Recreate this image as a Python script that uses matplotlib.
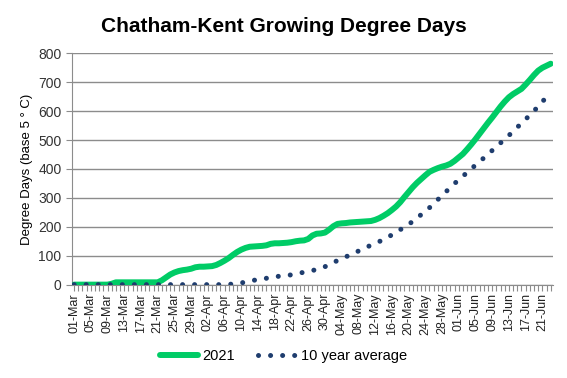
import matplotlib
matplotlib.use("Agg")
import matplotlib.pyplot as plt
import pandas as pd

plt.rcParams["font.family"] = ["Liberation Sans", "DejaVu Sans"]

dates = pd.date_range("2021-03-01", periods=115, freq="D")
date_labels = [d.strftime("%d-%b") for d in dates]

gdd_2021 = [
    0, 0, 0, 0, 0, 0, 0, 0, 0, 3,
    8, 8, 8, 8, 8, 8, 8, 8, 8, 8,
    8, 15, 25, 35, 42, 47, 50, 52, 55, 60,
    62, 62, 63, 64, 68, 75, 83, 92, 103, 113,
    121, 127, 131, 132, 133, 134, 136, 141, 143, 143,
    144, 145, 147, 150, 152, 153, 158, 170, 176, 177,
    180, 190, 202, 210, 212, 213, 215, 216, 217, 218,
    219, 220, 224, 230, 238, 247, 258, 270, 285, 303,
    320, 337, 352, 365, 378, 390, 397, 403, 408, 412,
    418, 428, 440, 452, 468, 485, 503, 522, 541, 560,
    578, 597, 616, 633, 648, 659, 668, 677, 692, 708,
    725, 740, 750, 757, 764,
]

gdd_10yr = [
    0, 0, 0, 0, 0, 0, 0, 0, 0, 0,
    0, 0, 0, 0, 0, 0, 0, 0, 0, 0,
    0, 0, 0, 0, 0, 0, 0, 0, 0, 0,
    0, 0, 0, 0, 0, 0, 1, 1, 2, 4,
    6, 9, 12, 15, 18, 20, 22, 25, 27, 29,
    31, 32, 34, 37, 40, 43, 46, 49, 52, 56,
    62, 70, 77, 83, 90, 96, 103, 110, 116, 123,
    130, 136, 142, 149, 156, 164, 172, 181, 190, 199,
    208, 219, 230, 242, 254, 266, 280, 294, 308, 322,
    336, 350, 362, 375, 388, 401, 413, 426, 438, 451,
    464, 477, 490, 503, 516, 530, 544, 558, 572, 586,
    601, 616, 633, 648, 663,
]

x = list(range(len(dates)))

fig = plt.figure(figsize=(5.67, 3.78), dpi=100)
ax = fig.add_axes([0.127, 0.247, 0.848, 0.612])

ax.plot(x, gdd_2021, color="#00cc66", linewidth=4.3, solid_capstyle="round",
        label="2021", zorder=3)
ax.plot(x, gdd_10yr, color="#1f3d6e", linewidth=3.6, linestyle=(0, (0.01, 2.4)),
        dash_capstyle="round", label="10 year average", zorder=4)

ax.set_xlim(-0.5, len(dates) - 0.5)
ax.set_ylim(0, 800)
ax.set_yticks(range(0, 801, 100))
ax.yaxis.grid(True, color="#8c8c8c", linewidth=1)
ax.set_axisbelow(True)

ax.set_xticks(x[::4])
ax.set_xticklabels(date_labels[::4], rotation=90, fontsize=9, color="#222222")
ax.set_xticks(x, minor=True)
ax.tick_params(axis="x", which="both", length=4, color="#8c8c8c", width=0.8, pad=2)
ax.tick_params(axis="y", length=4, color="#8c8c8c", labelsize=10, labelcolor="#333333")

for side in ["top", "right"]:
    ax.spines[side].set_visible(False)
for side in ["left", "bottom"]:
    ax.spines[side].set_color("#8c8c8c")

ax.set_ylabel("Degree Days (base 5 ° C)", fontsize=9.5, labelpad=4)

fig.suptitle("Chatham-Kent Growing Degree Days", x=0.5, y=0.955, fontsize=15,
             fontweight="bold")

fig.legend(loc="center", bbox_to_anchor=(0.5, 0.058), ncol=2, frameon=False,
           fontsize=10.5, handlelength=2.6, handletextpad=0.3, columnspacing=1.6)

fig.savefig("out.png", dpi=100)
